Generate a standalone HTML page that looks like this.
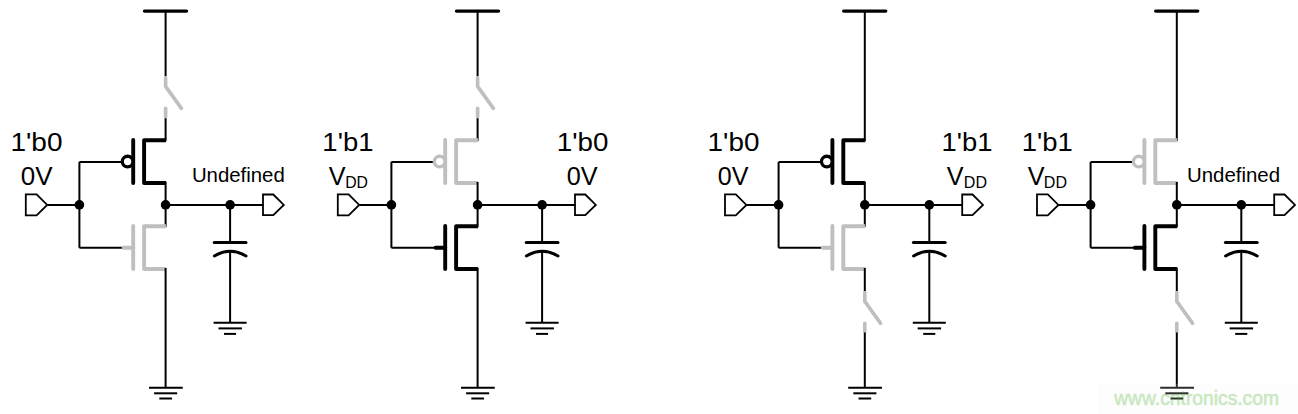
<!DOCTYPE html>
<html><head><meta charset="utf-8"><style>
html,body{margin:0;padding:0;background:#fff;}
svg{display:block;font-family:"Liberation Sans", sans-serif;}
</style></head><body>
<svg width="1298" height="414" viewBox="0 0 1298 414">
<rect width="1298" height="414" fill="#fff"/>
<line x1="144.50" y1="11.10" x2="186.50" y2="11.10" stroke="#000" stroke-width="3.4" stroke-linecap="round"/>
<line x1="165.60" y1="11.00" x2="165.60" y2="76.50" stroke="#000" stroke-width="2.0" stroke-linecap="butt"/>
<line x1="165.60" y1="117.50" x2="165.60" y2="141.00" stroke="#000" stroke-width="2.0" stroke-linecap="butt"/>
<path d="M165.60,77.80 V86.40 L181.40,108.40" stroke="#bfbfbf" stroke-width="3.6" stroke-linecap="round" stroke-linejoin="round" fill="none"/>
<path d="M165.60,108.30 V116.80" stroke="#bfbfbf" stroke-width="3.6" stroke-linecap="round" stroke-linejoin="miter" fill="none"/>
<path d="M166.10,140.2 H144.10 V183 H166.10" stroke="#000" stroke-width="3.9" stroke-linecap="butt" stroke-linejoin="round" fill="none"/>
<line x1="133.20" y1="140.00" x2="133.20" y2="183.00" stroke="#000" stroke-width="3.9" stroke-linecap="round"/>
<line x1="79.40" y1="161.90" x2="122.00" y2="161.90" stroke="#000" stroke-width="2.0" stroke-linecap="butt"/>
<circle cx="127.60" cy="161.6" r="5.35" fill="#fff" stroke="#000" stroke-width="3.3"/>
<line x1="79.40" y1="161.90" x2="79.40" y2="247.80" stroke="#000" stroke-width="2.0" stroke-linecap="butt"/>
<line x1="165.60" y1="182.00" x2="165.60" y2="227.00" stroke="#000" stroke-width="2.0" stroke-linecap="butt"/>
<path d="M166.10,226.2 H144.10 V269 H166.10" stroke="#bfbfbf" stroke-width="3.9" stroke-linecap="butt" stroke-linejoin="round" fill="none"/>
<line x1="133.20" y1="226.00" x2="133.20" y2="269.00" stroke="#bfbfbf" stroke-width="3.9" stroke-linecap="round"/>
<line x1="79.40" y1="247.80" x2="123.00" y2="247.80" stroke="#000" stroke-width="2.0" stroke-linecap="butt"/>
<line x1="123.60" y1="247.80" x2="133.20" y2="247.80" stroke="#bfbfbf" stroke-width="3.9" stroke-linecap="round"/>
<line x1="165.60" y1="268.00" x2="165.60" y2="387.70" stroke="#000" stroke-width="2.0" stroke-linecap="butt"/>
<line x1="149.00" y1="387.70" x2="182.80" y2="387.70" stroke="#000" stroke-width="2.0" stroke-linecap="butt"/>
<line x1="154.10" y1="393.30" x2="177.20" y2="393.30" stroke="#000" stroke-width="2.0" stroke-linecap="butt"/>
<line x1="159.30" y1="398.50" x2="172.00" y2="398.50" stroke="#000" stroke-width="2.0" stroke-linecap="butt"/>
<polygon points="25.80,194.3 36.60,194.3 47.20,204.9 36.60,215.3 25.80,215.3" fill="#fff" stroke="#000" stroke-width="1.8" stroke-linejoin="miter"/>
<line x1="47.40" y1="204.90" x2="79.40" y2="204.90" stroke="#000" stroke-width="2.0" stroke-linecap="butt"/>
<circle cx="79.40" cy="204.90" r="4.8" fill="#000"/>
<line x1="165.60" y1="204.90" x2="263.00" y2="204.90" stroke="#000" stroke-width="2.0" stroke-linecap="butt"/>
<circle cx="165.60" cy="204.90" r="4.8" fill="#000"/>
<circle cx="230.10" cy="204.90" r="4.8" fill="#000"/>
<polygon points="263.00,194.5 273.30,194.5 283.80,204.9 273.30,215.1 263.00,215.1" fill="#fff" stroke="#000" stroke-width="1.8" stroke-linejoin="miter"/>
<line x1="230.10" y1="204.90" x2="230.10" y2="242.40" stroke="#000" stroke-width="2.0" stroke-linecap="butt"/>
<line x1="214.20" y1="242.40" x2="246.00" y2="242.40" stroke="#000" stroke-width="3.0" stroke-linecap="round"/>
<path d="M214.40,256.0 Q230.10,246.4 246.00,256.0" stroke="#000" stroke-width="3.0" stroke-linecap="round" stroke-linejoin="miter" fill="none"/>
<line x1="230.10" y1="251.00" x2="230.10" y2="322.80" stroke="#000" stroke-width="2.0" stroke-linecap="butt"/>
<line x1="213.60" y1="322.80" x2="246.60" y2="322.80" stroke="#000" stroke-width="2.0" stroke-linecap="butt"/>
<line x1="218.50" y1="328.40" x2="241.90" y2="328.40" stroke="#000" stroke-width="2.0" stroke-linecap="butt"/>
<line x1="224.00" y1="333.90" x2="236.10" y2="333.90" stroke="#000" stroke-width="2.0" stroke-linecap="butt"/>
<line x1="456.50" y1="11.10" x2="498.50" y2="11.10" stroke="#000" stroke-width="3.4" stroke-linecap="round"/>
<line x1="477.60" y1="11.00" x2="477.60" y2="76.50" stroke="#000" stroke-width="2.0" stroke-linecap="butt"/>
<line x1="477.60" y1="117.50" x2="477.60" y2="141.00" stroke="#000" stroke-width="2.0" stroke-linecap="butt"/>
<path d="M477.60,77.80 V86.40 L493.40,108.40" stroke="#bfbfbf" stroke-width="3.6" stroke-linecap="round" stroke-linejoin="round" fill="none"/>
<path d="M477.60,108.30 V116.80" stroke="#bfbfbf" stroke-width="3.6" stroke-linecap="round" stroke-linejoin="miter" fill="none"/>
<path d="M478.10,140.2 H456.10 V183 H478.10" stroke="#bfbfbf" stroke-width="3.9" stroke-linecap="butt" stroke-linejoin="round" fill="none"/>
<line x1="445.20" y1="140.00" x2="445.20" y2="183.00" stroke="#bfbfbf" stroke-width="3.9" stroke-linecap="round"/>
<line x1="391.40" y1="161.90" x2="434.00" y2="161.90" stroke="#000" stroke-width="2.0" stroke-linecap="butt"/>
<circle cx="439.60" cy="161.6" r="5.35" fill="#fff" stroke="#bfbfbf" stroke-width="3.3"/>
<line x1="391.40" y1="161.90" x2="391.40" y2="247.80" stroke="#000" stroke-width="2.0" stroke-linecap="butt"/>
<line x1="477.60" y1="182.00" x2="477.60" y2="227.00" stroke="#000" stroke-width="2.0" stroke-linecap="butt"/>
<path d="M478.10,226.2 H456.10 V269 H478.10" stroke="#000" stroke-width="3.9" stroke-linecap="butt" stroke-linejoin="round" fill="none"/>
<line x1="445.20" y1="226.00" x2="445.20" y2="269.00" stroke="#000" stroke-width="3.9" stroke-linecap="round"/>
<line x1="391.40" y1="247.80" x2="435.00" y2="247.80" stroke="#000" stroke-width="2.0" stroke-linecap="butt"/>
<line x1="435.60" y1="247.80" x2="445.20" y2="247.80" stroke="#000" stroke-width="3.9" stroke-linecap="round"/>
<line x1="477.60" y1="268.00" x2="477.60" y2="387.70" stroke="#000" stroke-width="2.0" stroke-linecap="butt"/>
<line x1="461.00" y1="387.70" x2="494.80" y2="387.70" stroke="#000" stroke-width="2.0" stroke-linecap="butt"/>
<line x1="466.10" y1="393.30" x2="489.20" y2="393.30" stroke="#000" stroke-width="2.0" stroke-linecap="butt"/>
<line x1="471.30" y1="398.50" x2="484.00" y2="398.50" stroke="#000" stroke-width="2.0" stroke-linecap="butt"/>
<polygon points="337.80,194.3 348.60,194.3 359.20,204.9 348.60,215.3 337.80,215.3" fill="#fff" stroke="#000" stroke-width="1.8" stroke-linejoin="miter"/>
<line x1="359.40" y1="204.90" x2="391.40" y2="204.90" stroke="#000" stroke-width="2.0" stroke-linecap="butt"/>
<circle cx="391.40" cy="204.90" r="4.8" fill="#000"/>
<line x1="477.60" y1="204.90" x2="575.00" y2="204.90" stroke="#000" stroke-width="2.0" stroke-linecap="butt"/>
<circle cx="477.60" cy="204.90" r="4.8" fill="#000"/>
<circle cx="542.10" cy="204.90" r="4.8" fill="#000"/>
<polygon points="575.00,194.5 585.30,194.5 595.80,204.9 585.30,215.1 575.00,215.1" fill="#fff" stroke="#000" stroke-width="1.8" stroke-linejoin="miter"/>
<line x1="542.10" y1="204.90" x2="542.10" y2="242.40" stroke="#000" stroke-width="2.0" stroke-linecap="butt"/>
<line x1="526.20" y1="242.40" x2="558.00" y2="242.40" stroke="#000" stroke-width="3.0" stroke-linecap="round"/>
<path d="M526.40,256.0 Q542.10,246.4 558.00,256.0" stroke="#000" stroke-width="3.0" stroke-linecap="round" stroke-linejoin="miter" fill="none"/>
<line x1="542.10" y1="251.00" x2="542.10" y2="322.80" stroke="#000" stroke-width="2.0" stroke-linecap="butt"/>
<line x1="525.60" y1="322.80" x2="558.60" y2="322.80" stroke="#000" stroke-width="2.0" stroke-linecap="butt"/>
<line x1="530.50" y1="328.40" x2="553.90" y2="328.40" stroke="#000" stroke-width="2.0" stroke-linecap="butt"/>
<line x1="536.00" y1="333.90" x2="548.10" y2="333.90" stroke="#000" stroke-width="2.0" stroke-linecap="butt"/>
<line x1="843.70" y1="11.10" x2="885.70" y2="11.10" stroke="#000" stroke-width="3.4" stroke-linecap="round"/>
<line x1="864.80" y1="11.00" x2="864.80" y2="141.00" stroke="#000" stroke-width="2.0" stroke-linecap="butt"/>
<path d="M865.30,140.2 H843.30 V183 H865.30" stroke="#000" stroke-width="3.9" stroke-linecap="butt" stroke-linejoin="round" fill="none"/>
<line x1="832.40" y1="140.00" x2="832.40" y2="183.00" stroke="#000" stroke-width="3.9" stroke-linecap="round"/>
<line x1="778.60" y1="161.90" x2="821.20" y2="161.90" stroke="#000" stroke-width="2.0" stroke-linecap="butt"/>
<circle cx="826.80" cy="161.6" r="5.35" fill="#fff" stroke="#000" stroke-width="3.3"/>
<line x1="778.60" y1="161.90" x2="778.60" y2="247.80" stroke="#000" stroke-width="2.0" stroke-linecap="butt"/>
<line x1="864.80" y1="182.00" x2="864.80" y2="227.00" stroke="#000" stroke-width="2.0" stroke-linecap="butt"/>
<path d="M865.30,226.2 H843.30 V269 H865.30" stroke="#bfbfbf" stroke-width="3.9" stroke-linecap="butt" stroke-linejoin="round" fill="none"/>
<line x1="832.40" y1="226.00" x2="832.40" y2="269.00" stroke="#bfbfbf" stroke-width="3.9" stroke-linecap="round"/>
<line x1="778.60" y1="247.80" x2="822.20" y2="247.80" stroke="#000" stroke-width="2.0" stroke-linecap="butt"/>
<line x1="822.80" y1="247.80" x2="832.40" y2="247.80" stroke="#bfbfbf" stroke-width="3.9" stroke-linecap="round"/>
<line x1="864.80" y1="268.00" x2="864.80" y2="291.50" stroke="#000" stroke-width="2.0" stroke-linecap="butt"/>
<path d="M864.80,292.80 V301.40 L880.60,323.40" stroke="#bfbfbf" stroke-width="3.6" stroke-linecap="round" stroke-linejoin="round" fill="none"/>
<path d="M864.80,323.30 V331.80" stroke="#bfbfbf" stroke-width="3.6" stroke-linecap="round" stroke-linejoin="miter" fill="none"/>
<line x1="864.80" y1="332.50" x2="864.80" y2="387.70" stroke="#000" stroke-width="2.0" stroke-linecap="butt"/>
<line x1="848.20" y1="387.70" x2="882.00" y2="387.70" stroke="#000" stroke-width="2.0" stroke-linecap="butt"/>
<line x1="853.30" y1="393.30" x2="876.40" y2="393.30" stroke="#000" stroke-width="2.0" stroke-linecap="butt"/>
<line x1="858.50" y1="398.50" x2="871.20" y2="398.50" stroke="#000" stroke-width="2.0" stroke-linecap="butt"/>
<polygon points="725.00,194.3 735.80,194.3 746.40,204.9 735.80,215.3 725.00,215.3" fill="#fff" stroke="#000" stroke-width="1.8" stroke-linejoin="miter"/>
<line x1="746.60" y1="204.90" x2="778.60" y2="204.90" stroke="#000" stroke-width="2.0" stroke-linecap="butt"/>
<circle cx="778.60" cy="204.90" r="4.8" fill="#000"/>
<line x1="864.80" y1="204.90" x2="962.20" y2="204.90" stroke="#000" stroke-width="2.0" stroke-linecap="butt"/>
<circle cx="864.80" cy="204.90" r="4.8" fill="#000"/>
<circle cx="929.30" cy="204.90" r="4.8" fill="#000"/>
<polygon points="962.20,194.5 972.50,194.5 983.00,204.9 972.50,215.1 962.20,215.1" fill="#fff" stroke="#000" stroke-width="1.8" stroke-linejoin="miter"/>
<line x1="929.30" y1="204.90" x2="929.30" y2="242.40" stroke="#000" stroke-width="2.0" stroke-linecap="butt"/>
<line x1="913.40" y1="242.40" x2="945.20" y2="242.40" stroke="#000" stroke-width="3.0" stroke-linecap="round"/>
<path d="M913.60,256.0 Q929.30,246.4 945.20,256.0" stroke="#000" stroke-width="3.0" stroke-linecap="round" stroke-linejoin="miter" fill="none"/>
<line x1="929.30" y1="251.00" x2="929.30" y2="322.80" stroke="#000" stroke-width="2.0" stroke-linecap="butt"/>
<line x1="912.80" y1="322.80" x2="945.80" y2="322.80" stroke="#000" stroke-width="2.0" stroke-linecap="butt"/>
<line x1="917.70" y1="328.40" x2="941.10" y2="328.40" stroke="#000" stroke-width="2.0" stroke-linecap="butt"/>
<line x1="923.20" y1="333.90" x2="935.30" y2="333.90" stroke="#000" stroke-width="2.0" stroke-linecap="butt"/>
<line x1="1155.70" y1="11.10" x2="1197.70" y2="11.10" stroke="#000" stroke-width="3.4" stroke-linecap="round"/>
<line x1="1176.80" y1="11.00" x2="1176.80" y2="141.00" stroke="#000" stroke-width="2.0" stroke-linecap="butt"/>
<path d="M1177.30,140.2 H1155.30 V183 H1177.30" stroke="#bfbfbf" stroke-width="3.9" stroke-linecap="butt" stroke-linejoin="round" fill="none"/>
<line x1="1144.40" y1="140.00" x2="1144.40" y2="183.00" stroke="#bfbfbf" stroke-width="3.9" stroke-linecap="round"/>
<line x1="1090.60" y1="161.90" x2="1133.20" y2="161.90" stroke="#000" stroke-width="2.0" stroke-linecap="butt"/>
<circle cx="1138.80" cy="161.6" r="5.35" fill="#fff" stroke="#bfbfbf" stroke-width="3.3"/>
<line x1="1090.60" y1="161.90" x2="1090.60" y2="247.80" stroke="#000" stroke-width="2.0" stroke-linecap="butt"/>
<line x1="1176.80" y1="182.00" x2="1176.80" y2="227.00" stroke="#000" stroke-width="2.0" stroke-linecap="butt"/>
<path d="M1177.30,226.2 H1155.30 V269 H1177.30" stroke="#000" stroke-width="3.9" stroke-linecap="butt" stroke-linejoin="round" fill="none"/>
<line x1="1144.40" y1="226.00" x2="1144.40" y2="269.00" stroke="#000" stroke-width="3.9" stroke-linecap="round"/>
<line x1="1090.60" y1="247.80" x2="1134.20" y2="247.80" stroke="#000" stroke-width="2.0" stroke-linecap="butt"/>
<line x1="1134.80" y1="247.80" x2="1144.40" y2="247.80" stroke="#000" stroke-width="3.9" stroke-linecap="round"/>
<line x1="1176.80" y1="268.00" x2="1176.80" y2="291.50" stroke="#000" stroke-width="2.0" stroke-linecap="butt"/>
<path d="M1176.80,292.80 V301.40 L1192.60,323.40" stroke="#bfbfbf" stroke-width="3.6" stroke-linecap="round" stroke-linejoin="round" fill="none"/>
<path d="M1176.80,323.30 V331.80" stroke="#bfbfbf" stroke-width="3.6" stroke-linecap="round" stroke-linejoin="miter" fill="none"/>
<line x1="1176.80" y1="332.50" x2="1176.80" y2="387.70" stroke="#000" stroke-width="2.0" stroke-linecap="butt"/>
<line x1="1160.20" y1="387.70" x2="1194.00" y2="387.70" stroke="#000" stroke-width="2.0" stroke-linecap="butt"/>
<line x1="1165.30" y1="393.30" x2="1188.40" y2="393.30" stroke="#000" stroke-width="2.0" stroke-linecap="butt"/>
<line x1="1170.50" y1="398.50" x2="1183.20" y2="398.50" stroke="#000" stroke-width="2.0" stroke-linecap="butt"/>
<polygon points="1037.00,194.3 1047.80,194.3 1058.40,204.9 1047.80,215.3 1037.00,215.3" fill="#fff" stroke="#000" stroke-width="1.8" stroke-linejoin="miter"/>
<line x1="1058.60" y1="204.90" x2="1090.60" y2="204.90" stroke="#000" stroke-width="2.0" stroke-linecap="butt"/>
<circle cx="1090.60" cy="204.90" r="4.8" fill="#000"/>
<line x1="1176.80" y1="204.90" x2="1274.20" y2="204.90" stroke="#000" stroke-width="2.0" stroke-linecap="butt"/>
<circle cx="1176.80" cy="204.90" r="4.8" fill="#000"/>
<circle cx="1241.30" cy="204.90" r="4.8" fill="#000"/>
<polygon points="1274.20,194.5 1284.50,194.5 1295.00,204.9 1284.50,215.1 1274.20,215.1" fill="#fff" stroke="#000" stroke-width="1.8" stroke-linejoin="miter"/>
<line x1="1241.30" y1="204.90" x2="1241.30" y2="242.40" stroke="#000" stroke-width="2.0" stroke-linecap="butt"/>
<line x1="1225.40" y1="242.40" x2="1257.20" y2="242.40" stroke="#000" stroke-width="3.0" stroke-linecap="round"/>
<path d="M1225.60,256.0 Q1241.30,246.4 1257.20,256.0" stroke="#000" stroke-width="3.0" stroke-linecap="round" stroke-linejoin="miter" fill="none"/>
<line x1="1241.30" y1="251.00" x2="1241.30" y2="322.80" stroke="#000" stroke-width="2.0" stroke-linecap="butt"/>
<line x1="1224.80" y1="322.80" x2="1257.80" y2="322.80" stroke="#000" stroke-width="2.0" stroke-linecap="butt"/>
<line x1="1229.70" y1="328.40" x2="1253.10" y2="328.40" stroke="#000" stroke-width="2.0" stroke-linecap="butt"/>
<line x1="1235.20" y1="333.90" x2="1247.30" y2="333.90" stroke="#000" stroke-width="2.0" stroke-linecap="butt"/>
<text x="10.413" y="151.024" font-size="25" fill="#000" textLength="52.051" lengthAdjust="spacingAndGlyphs">1'b0</text>
<text x="20.827" y="185.024" font-size="25.2" fill="#000" textLength="31.787" lengthAdjust="spacingAndGlyphs">0V</text>
<text x="191.891" y="181.724" font-size="19.5" fill="#000" textLength="92.9" lengthAdjust="spacingAndGlyphs">Undefined</text>
<text x="322.383" y="151.024" font-size="25" fill="#000" textLength="51.055" lengthAdjust="spacingAndGlyphs">1'b1</text>
<text x="328.843" y="185.379" font-size="25.2" fill="#000">V</text>
<text x="345.192" y="188.471" font-size="16" fill="#000" textLength="22.776" lengthAdjust="spacingAndGlyphs">DD</text>
<text x="556.815" y="151.024" font-size="25" fill="#000" textLength="51.568" lengthAdjust="spacingAndGlyphs">1'b0</text>
<text x="566.871" y="185.024" font-size="25.2" fill="#000" textLength="30.828" lengthAdjust="spacingAndGlyphs">0V</text>
<text x="707.595" y="151.024" font-size="25" fill="#000" textLength="51.773" lengthAdjust="spacingAndGlyphs">1'b0</text>
<text x="717.83" y="185.024" font-size="25.2" fill="#000" textLength="30.679" lengthAdjust="spacingAndGlyphs">0V</text>
<text x="941.578" y="151.024" font-size="25" fill="#000" textLength="50.924" lengthAdjust="spacingAndGlyphs">1'b1</text>
<text x="946.843" y="184.516" font-size="25.2" fill="#000">V</text>
<text x="963.813" y="188.442" font-size="16" fill="#000" textLength="23.159" lengthAdjust="spacingAndGlyphs">DD</text>
<text x="1021.709" y="151.024" font-size="25" fill="#000" textLength="51.039" lengthAdjust="spacingAndGlyphs">1'b1</text>
<text x="1027.73" y="184.763" font-size="25.2" fill="#000">V</text>
<text x="1043.813" y="188.442" font-size="16" fill="#000" textLength="23.159" lengthAdjust="spacingAndGlyphs">DD</text>
<text x="1186.912" y="181.724" font-size="19.5" fill="#000" textLength="93.164" lengthAdjust="spacingAndGlyphs">Undefined</text>
<rect x="1098" y="383.7" width="200" height="31" fill="rgb(244,244,244)" fill-opacity="0.184"/>
<g opacity="0.25"><text x="1114.2" y="404.8" font-size="19.5" fill="rgb(47,167,7)" stroke="rgb(47,167,7)" stroke-width="0.6" textLength="164.8" lengthAdjust="spacingAndGlyphs">www.cntronics.com</text></g>
</svg>
</body></html>
